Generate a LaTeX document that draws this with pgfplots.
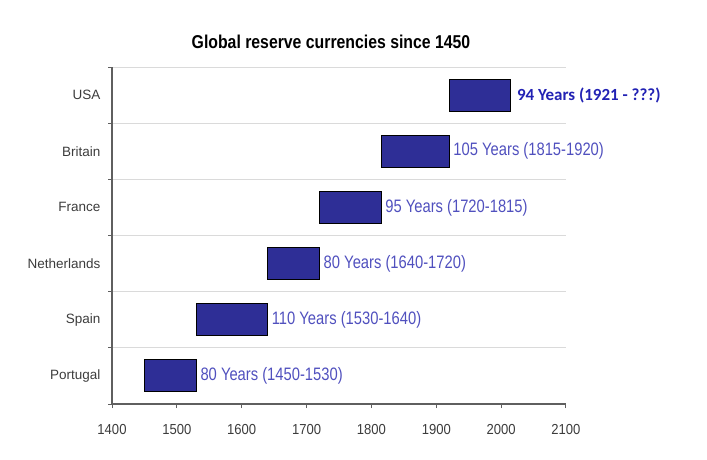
\documentclass[border=0pt]{standalone}
\usepackage{fontspec}
\setmainfont{Liberation Sans}
\newfontfamily\narrow[FakeStretch=0.82]{Liberation Sans}
\newfontfamily\ticknarrow[FakeStretch=0.9]{Liberation Sans}
\newfontfamily\narrowb[FakeStretch=0.85]{Liberation Sans Bold}
\newfontfamily\calib{Carlito}
\usepackage{pgfplots}
\pgfplotsset{compat=1.18}
\definecolor{barfill}{RGB}{46,46,150}
\definecolor{lab}{RGB}{80,80,190}
\definecolor{usa}{RGB}{34,34,180}
\definecolor{gridc}{RGB}{218,218,218}
\definecolor{tl}{RGB}{60,60,60}
\definecolor{axc}{RGB}{95,95,95}
\begin{document}
\begin{tikzpicture}[x=1pt,y=1pt]
\path[use as bounding box] (0,0) rectangle (707,459);
\node[font=\narrowb\fontsize{18.6}{20}\selectfont, text=black] at (331,417) {Global reserve currencies since 1450};
\begin{axis}[
  at={(112pt,55pt)}, anchor=south west,
  scale only axis, width=454pt, height=337pt,
  xmin=1400, xmax=2100, ymin=-0.5, ymax=5.5,
  axis x line*=bottom, axis y line*=left,
  axis line style={line width=1.1pt, color=axc},
  xtick={1400,1500,...,2100},
  ytick={-0.5,0.5,1.5,2.5,3.5,4.5,5.5},
  yticklabels={},
  ymajorgrids,
  major grid style={gridc, line width=1pt},
  tick align=outside,
  major tick length=4pt,
  tick style={line width=1pt, color=axc},
  extra y ticks={0,1,2,3,4,5},
  extra y tick labels={Portugal,Spain,Netherlands,France,Britain,USA},
  extra y tick style={grid=none, tick style={draw=none}},
  /pgf/number format/assume math mode=true,
  /pgf/number format/set thousands separator={},
  xticklabel style={font=\ticknarrow\fontsize{14.5}{16}\selectfont, text=tl, yshift=-13pt},
  yticklabel style={font=\fontsize{13.5}{15}\selectfont, text=tl, xshift=-4pt},
  xbar stacked, bar width=32pt,
  clip=false,
]
\addplot[draw=none, fill=none] coordinates {(1450,0) (1530,1) (1640,2) (1720,3) (1815,4) (1921,5)};
\addplot[fill=barfill, draw=black, line width=0.9pt] coordinates {(80,0) (110,1) (80,2) (95,3) (105,4) (94,5)};
\node[anchor=west, inner sep=4pt, text=lab, font=\narrow\fontsize{18}{20}\selectfont] at (axis cs:1530,0) {80 Years (1450-1530)};
\node[anchor=west, inner sep=4pt, text=lab, font=\narrow\fontsize{18}{20}\selectfont] at (axis cs:1640,1) {110 Years (1530-1640)};
\node[anchor=west, inner sep=4pt, text=lab, font=\narrow\fontsize{18}{20}\selectfont] at (axis cs:1720,2) {80 Years (1640-1720)};
\node[anchor=west, inner sep=4pt, text=lab, font=\narrow\fontsize{18}{20}\selectfont] at (axis cs:1815,3) {95 Years (1720-1815)};
\node[anchor=west, inner sep=4pt, text=lab, font=\narrow\fontsize{18}{20}\selectfont] at (axis cs:1920,4) {105 Years (1815-1920)};
\node[anchor=west, inner sep=6pt, text=usa, font=\calib\bfseries\fontsize{17}{19}\selectfont] at (axis cs:2015,5) {94 Years (1921 - ???)};
\end{axis}
\end{tikzpicture}
\end{document}
